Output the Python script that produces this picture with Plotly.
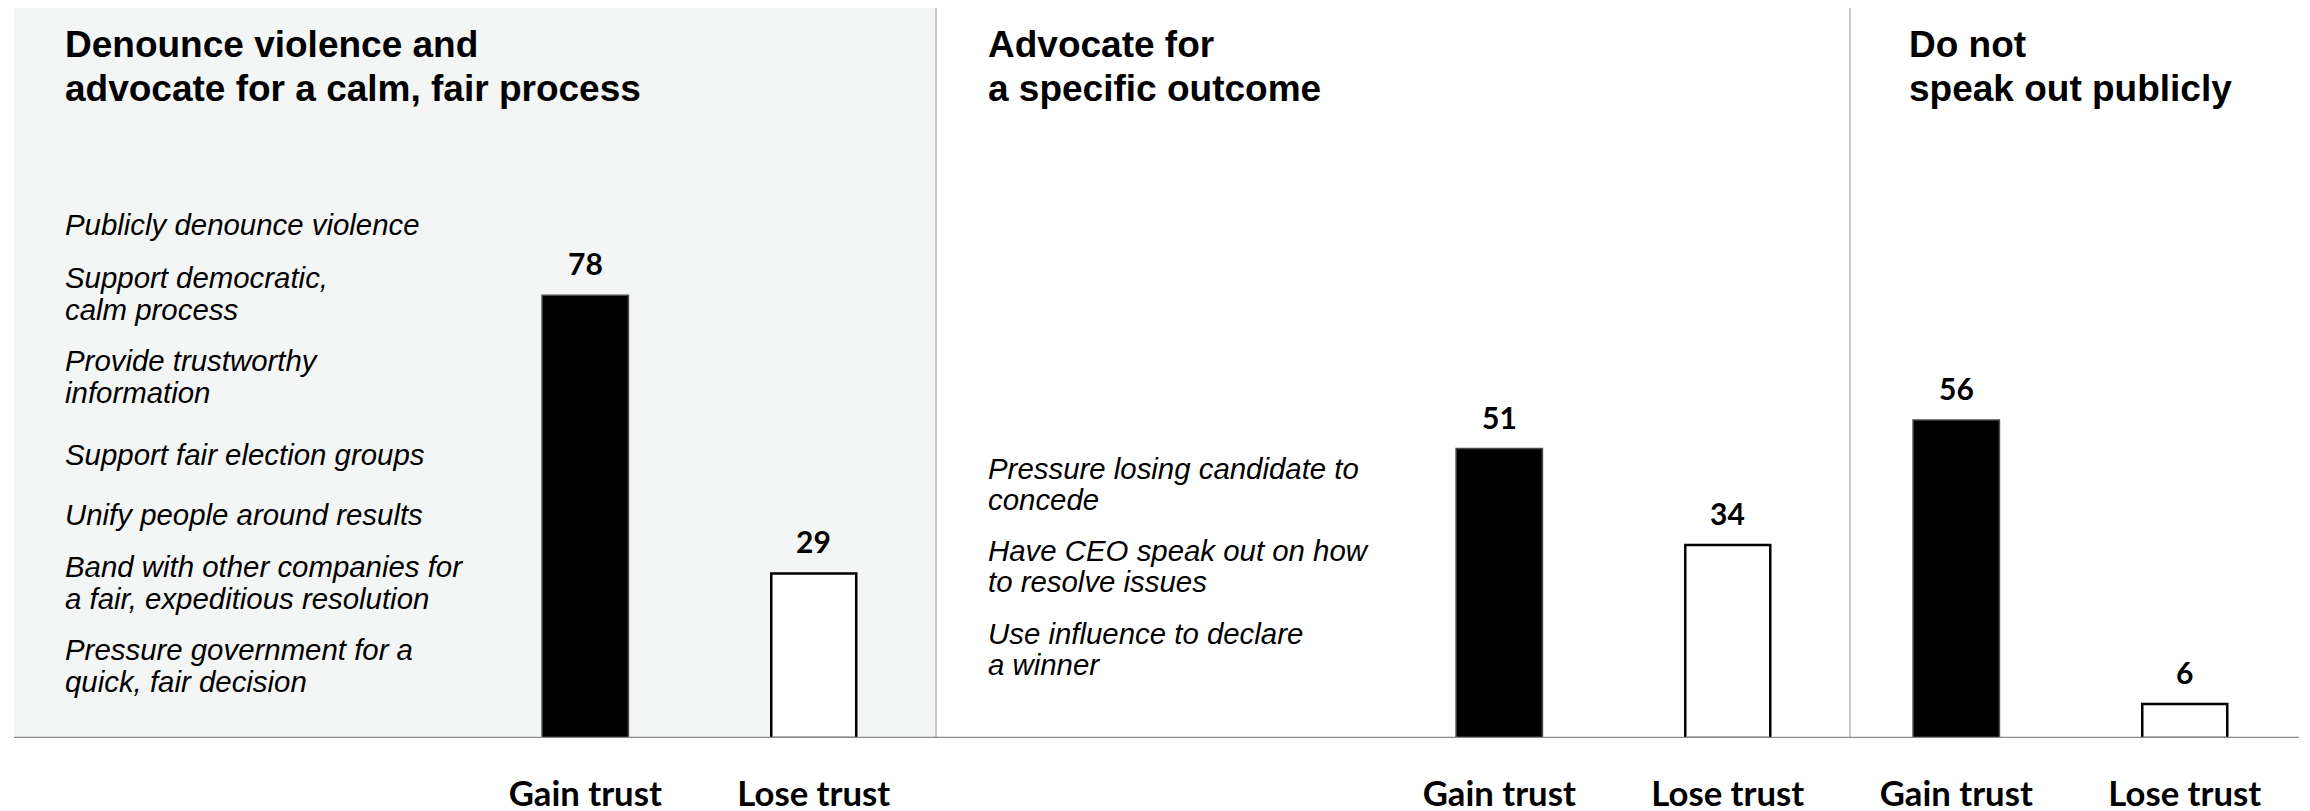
import plotly.graph_objects as go

# ---- data -------------------------------------------------------------
panel_titles = [
    ["Denounce violence and", "advocate for a calm, fair process"],
    ["Advocate for", "a specific outcome"],
    ["Do not", "speak out publicly"],
]
panel1_items = [
    ["Publicly denounce violence"],
    ["Support democratic,", "calm process"],
    ["Provide trustworthy", "information"],
    ["Support fair election groups"],
    ["Unify people around results"],
    ["Band with other companies for", "a fair, expeditious resolution"],
    ["Pressure government for a", "quick, fair decision"],
]
panel2_items = [
    ["Pressure losing candidate to", "concede"],
    ["Have CEO speak out on how", "to resolve issues"],
    ["Use influence to declare", "a winner"],
]
gain_pos = [0, 4, 6]
lose_pos = [1, 5, 7]
gain_trust = [78, 51, 56]
lose_trust = [29, 34, 6]
tick_labels = ["Gain trust", "Lose trust"]

# ---- geometry of the figure (pixels) -----------------------------------
W, H = 2310, 811
ML, MR, MT, MB = 14, 11, 8, 73
PW, PH = W - ML - MR, H - MT - MB
X_RANGE = [-2.5, 7.5]
Y_RANGE = [0, 128.6]
SEP_X = [1.535, 5.535]


def py(ypx):
    """pixel row (from top of page) -> paper y"""
    return (H - MB - ypx) / PH


def px(xpx):
    """pixel column -> paper x"""
    return (xpx - ML) / PW


TITLE_FONT = dict(family="Liberation Sans, Arial, sans-serif", size=37, color="#000000")
ITEM_FONT = dict(family="Liberation Sans, Arial, sans-serif", size=29.4, color="#000000")
VALUE_FONT = dict(family="Lato, Open Sans, sans-serif", size=30, color="#000000")
TICK_FONT = dict(family="Lato, Open Sans, sans-serif", size=34.7, color="#000000")

fig = go.Figure()

fig.add_trace(go.Bar(
    x=gain_pos, y=gain_trust, width=0.378,
    marker=dict(color="#000000", line=dict(color="#4a4a4a", width=1.5)),
    hoverinfo="skip", showlegend=False,
))
fig.add_trace(go.Bar(
    x=lose_pos, y=lose_trust, width=0.372,
    marker=dict(color="#ffffff", line=dict(color="#000000", width=2.5)),
    hoverinfo="skip", showlegend=False,
))

annotations = []

# value labels above bars
for xs, vs in ((gain_pos, gain_trust), (lose_pos, lose_trust)):
    for x, v in zip(xs, vs):
        annotations.append(dict(
            x=x, y=v, xref="x", yref="y", text=f"<b>{v}</b>",
            showarrow=False, xanchor="center", yanchor="bottom",
            yshift=12, font=VALUE_FONT,
        ))

# panel headings
title_x = [63, 986, 1907]
title_rows = [44, 88]
for tx, lines in zip(title_x, panel_titles):
    for row, line in zip(title_rows, lines):
        annotations.append(dict(
            x=px(tx), y=py(row), xref="paper", yref="paper",
            text=f"<b>{line}</b>", showarrow=False,
            xanchor="left", yanchor="middle", font=TITLE_FONT,
        ))


def add_items(items, left, first_rows, step):
    for lines, top in zip(items, first_rows):
        for i, line in enumerate(lines):
            annotations.append(dict(
                x=px(left), y=py(top + i * step), xref="paper", yref="paper",
                text=f"<i>{line}</i>", showarrow=False,
                xanchor="left", yanchor="middle", font=ITEM_FONT,
            ))


add_items(panel1_items, 63, [225, 277, 360, 454, 514, 566, 649], 32)
add_items(panel2_items, 986, [468, 550, 633], 31.5)

shapes = [
    # shaded first section
    dict(type="rect", xref="x", yref="paper", x0=X_RANGE[0], x1=SEP_X[0],
         y0=0, y1=1, fillcolor="#f4f5f5", line=dict(width=0), layer="below"),
]
for sx in SEP_X:
    shapes.append(dict(type="line", xref="x", yref="paper", x0=sx, x1=sx,
                       y0=0, y1=1, line=dict(color="#c6cbca", width=2), layer="below"))
# baseline
shapes.append(dict(type="line", xref="paper", yref="y", x0=0, x1=1, y0=0, y1=0,
                   line=dict(color="#8a8a8a", width=2.5), layer="above"))

fig.update_layout(
    width=W, height=H,
    margin=dict(l=ML, r=MR, t=MT, b=MB, autoexpand=False),
    paper_bgcolor="#ffffff", plot_bgcolor="#ffffff",
    barmode="overlay",
    annotations=annotations, shapes=shapes,
    xaxis=dict(
        range=X_RANGE, showgrid=False, zeroline=False, showline=False,
        tickmode="array", tickvals=gain_pos + lose_pos,
        ticktext=[f"<b>{tick_labels[0]}</b>"] * 3 + [f"<b>{tick_labels[1]}</b>"] * 3,
        ticks="", tickfont=TICK_FONT, ticklabelstandoff=32, automargin=False,
    ),
    yaxis=dict(range=Y_RANGE, visible=False, showgrid=False, zeroline=False),
)

fig.write_html("out.html")
